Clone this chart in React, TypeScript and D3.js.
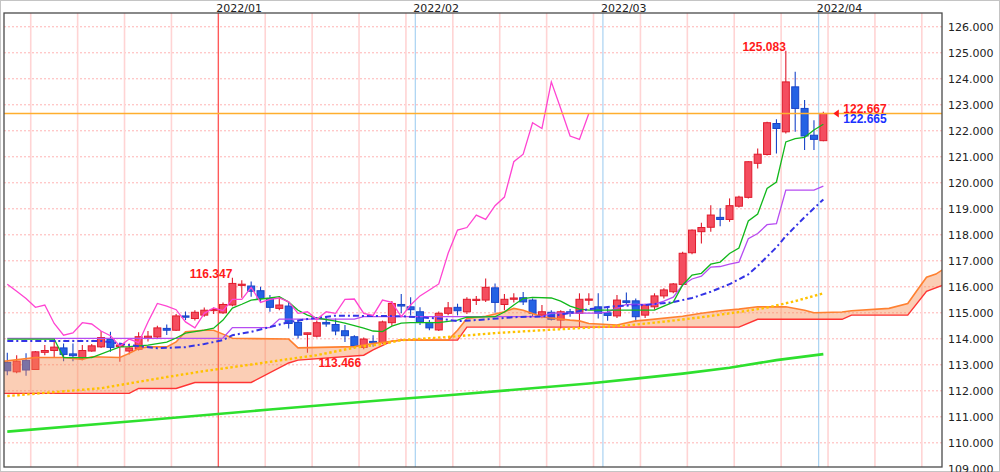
import React from 'react';
import * as d3 from 'd3';

// ---- Data ----
// daily candles, index 0 = 2021/12/01 ... index 87 = 2022/04/01
const openP = [113.09,112.73,113.17,112.82,113.48,113.55,113.65,113.42,113.25,113.53,113.69,113.98,113.70,113.53,113.60,114.04,114.07,114.40,114.33,114.88,114.78,114.91,115.10,115.00,115.30,116.07,116.03,115.85,115.55,115.17,115.26,114.63,114.17,114.10,114.63,114.55,114.31,114.08,113.67,113.90,113.85,114.62,115.32,115.23,115.04,114.63,114.34,114.98,115.21,115.04,115.50,115.49,115.96,115.32,115.52,115.58,115.49,114.91,115.02,114.72,115.04,114.98,115.50,115.23,115.00,114.88,115.46,115.46,114.91,115.23,115.65,115.81,116.09,117.31,118.12,118.29,118.67,118.59,119.10,119.44,120.75,121.09,122.28,121.96,123.69,122.86,121.83,121.62];
const highP = [113.46,113.37,113.44,113.53,113.76,113.88,113.82,113.82,113.76,113.80,114.30,114.27,113.82,113.82,114.25,114.30,114.50,114.55,114.95,115.05,115.10,115.20,115.20,115.40,116.347,116.25,116.20,116.00,115.68,115.64,115.40,114.72,114.23,114.70,114.85,114.78,114.53,114.14,114.05,114.14,114.70,115.45,115.72,115.60,115.21,114.72,115.05,115.42,115.35,115.60,115.65,116.32,116.13,115.72,115.75,115.80,115.55,115.30,115.10,115.10,115.15,115.75,115.75,115.75,115.23,115.68,115.78,115.55,115.35,115.75,115.94,116.15,117.35,118.20,118.46,119.14,119.02,119.40,119.50,120.83,121.32,122.35,122.44,125.083,124.27,123.18,122.41,122.73];
const lowP = [112.60,112.68,112.58,112.80,113.37,113.26,113.14,113.14,113.18,113.50,113.65,113.50,113.12,113.40,113.55,113.90,114.00,114.15,114.30,114.72,114.70,114.85,114.95,114.95,115.25,115.58,115.62,115.40,115.04,115.10,114.40,114.01,113.466,114.05,114.46,114.14,113.88,113.63,113.60,113.69,113.80,114.50,114.98,114.90,114.53,114.33,114.30,114.91,114.90,114.95,115.30,115.42,115.00,115.10,115.40,115.30,114.85,114.79,114.70,114.40,114.85,114.40,115.30,114.78,114.69,114.80,115.30,114.65,114.80,115.12,115.55,115.75,116.05,117.25,117.67,118.12,118.33,118.50,119.05,119.40,120.55,121.05,121.13,121.90,121.96,121.26,121.26,121.60];
const closeP = [112.77,113.14,112.80,113.50,113.55,113.68,113.40,113.35,113.55,113.73,114.05,113.67,113.76,113.65,114.08,114.10,114.42,114.33,114.88,114.83,115.02,115.10,115.13,115.32,116.13,116.10,115.83,115.55,115.21,115.30,114.59,114.14,114.23,114.62,114.57,114.30,114.12,113.72,113.99,113.85,114.65,115.36,115.26,115.12,114.65,114.42,114.98,115.19,115.08,115.52,115.52,115.98,115.40,115.52,115.57,115.42,114.98,115.04,114.75,115.04,114.98,115.52,115.53,114.98,114.90,115.49,115.40,114.85,115.30,115.65,115.88,116.11,117.29,118.18,118.28,118.76,118.59,119.12,119.45,120.81,121.10,122.31,122.09,123.88,122.86,121.80,121.67,122.667];

// lagging span (magenta), starting at index 0
const laggingSpan = [116.10,115.83,115.55,115.21,115.30,114.59,114.14,114.23,114.62,114.57,114.30,114.12,113.72,113.99,113.85,114.65,115.36,115.26,115.12,114.65,114.42,114.98,115.19,115.08,115.52,115.52,115.98,115.40,115.52,115.57,115.42,114.98,115.04,114.75,115.04,114.98,115.52,115.53,114.98,114.90,115.49,115.40,114.85,115.30,115.65,115.88,116.11,117.29,118.18,118.28,118.76,118.59,119.12,119.45,120.81,121.10,122.31,122.09,123.88,122.86,121.80,121.67,122.667];

// [index, value] vertices
const conversionLine: [number, number][] = [[0,113.99],[5,113.99],[6,113.28],[9,113.28],[12,113.69],[13,113.70],[15,113.76],[17,113.87],[18,114.03],[19,114.22],[21,114.33],[22,114.41],[23,114.72],[24,115.18],[25,115.33],[26,115.49],[28,115.57],[29,115.62],[30,115.41],[31,115.10],[32,114.91],[33,114.80],[35,114.68],[36,114.60],[38,114.41],[39,114.30],[40,114.28],[41,114.49],[42,114.60],[43,114.62],[46,114.62],[48,114.72],[49,114.83],[52,114.85],[53,115.03],[54,115.30],[55,115.55],[56,115.59],[58,115.57],[59,115.45],[60,115.26],[61,115.14],[62,115.10],[69,115.10],[70,115.26],[71,115.41],[72,116.07],[73,116.45],[74,116.52],[75,116.87],[76,116.95],[77,117.28],[78,117.49],[79,118.53],[80,118.80],[81,119.78],[82,120.03],[83,121.57],[84,121.70],[85,121.75],[86,122.03],[87,122.25]];
const baseLine: [number, number][] = [[0,114.02],[22,114.02],[23,114.03],[24,114.43],[28,114.43],[29,114.76],[37,114.76],[38,114.85],[57,114.85],[58,114.99],[63,114.99],[64,115.03],[65,115.18],[66,115.32],[69,115.33],[70,115.45],[71,115.60],[72,116.07],[73,116.30],[74,116.41],[75,116.76],[76,116.78],[77,116.87],[78,116.95],[79,117.85],[80,118.05],[81,118.39],[82,118.43],[83,119.72],[86,119.72],[87,119.87]];
const leadingSpanA: [number, number][] = [[-1,113.12],[0,113.15],[3,113.28],[6,113.28],[8,113.21],[9,113.31],[12,113.28],[13,113.44],[14,113.63],[15,113.69],[17,113.69],[18,113.88],[19,114.27],[21,114.33],[22,114.33],[23,114.18],[24,114.02],[30,113.99],[31,113.65],[37,113.70],[39,113.82],[42,113.95],[47,113.95],[48,114.33],[49,114.78],[51,114.87],[53,115.04],[54,115.17],[55,115.10],[57,114.85],[60,114.72],[61,114.69],[62,114.59],[65,114.53],[67,114.69],[68,114.72],[72,114.87],[74,114.98],[76,115.08],[78,115.14],[80,115.23],[83,115.23],[85,115.10],[86,115.00],[89,115.03],[90,115.08],[94,115.17],[96,115.36],[97,115.87],[98,116.37],[99,116.49],[100,116.72]];
const leadingSpanB: [number, number][] = [[-1,111.90],[13,111.90],[14,112.09],[18,112.09],[20,112.32],[26,112.32],[30,113.07],[31,113.18],[38,113.37],[39,113.57],[41,113.91],[42,113.95],[48,113.95],[49,114.45],[78,114.45],[80,114.75],[89,114.75],[90,114.91],[96,114.91],[98,115.83],[100,116.10]];
const maShort: [number, number][] = [[0,113.92],[10,113.92],[13,113.76],[16,113.64],[19,113.68],[21,113.80],[23,113.95],[24,114.14],[26,114.27],[28,114.45],[30,114.64],[32,114.76],[35,114.89],[42,114.87],[46,114.78],[48,114.68],[50,114.72],[54,114.83],[58,114.87],[60,114.99],[62,115.14],[65,115.26],[68,115.30],[71,115.41],[73,115.57],[75,115.81],[77,116.10],[79,116.48],[80,116.80],[82,117.52],[83,117.95],[85,118.68],[87,119.36]];
const maMid: [number, number][] = [[0,111.80],[10,112.10],[17,112.53],[21,112.76],[26,113.01],[30,113.22],[33,113.37],[37,113.66],[40,113.80],[42,113.95],[47,114.07],[52,114.22],[58,114.35],[62,114.43],[66,114.51],[70,114.66],[74,114.83],[78,115.03],[81,115.20],[84,115.45],[87,115.75]];
const maLong: [number, number][] = [[0,110.43],[14,110.85],[28,111.28],[40,111.64],[47,111.83],[55,112.07],[62,112.28],[67,112.47],[72,112.66],[77,112.89],[82,113.18],[87,113.41]];

const priceTicks = [109,110,111,112,113,114,115,116,117,118,119,120,121,122,123,124,125,126];
const monthLabels = ['2022/01','2022/02','2022/03','2022/04'];
const monthStartIdx = [23, 44, 64, 87];
const weekStartIdx = [3,8,13,18,28,33,38,43,48,53,58,63,68,73,78,83,88,93,98];
const highMarks = [{ idx: 24, text: '116.347' }, { idx: 83, text: '125.083' }];
const lowMarks = [{ idx: 32, text: '113.466' }];
const askLabel = '122.667';
const bidLabel = '122.665';

export default function App() {
  const W = 1000, H = 472;
  const left = 4, right = 942, top = 13, bottom = 467;
  const x = d3.scaleLinear().domain([-0.35, 99.65]).range([left, right]);
  const y = d3.scaleLinear().domain([109.07, 126.53]).range([bottom, top]);
  const slotL = (i: number) => x(i - 0.5);
  const line = d3.line<[number, number]>().x(d => x(d[0])).y(d => y(d[1]));
  const lagPts: [number, number][] = laggingSpan.map((v, i) => [i, v]);
  const cloudPts: [number, number][] = [...leadingSpanA, ...[...leadingSpanB].reverse()];
  const cloudPath = line(cloudPts) + 'Z';
  const last = closeP.length - 1;
  const bodyW = 7;
  const font = '"DejaVu Sans", Verdana, sans-serif';
  const boldFont = '"Liberation Sans", Arial, sans-serif';

  return (
    <svg width={W} height={H} style={{ position: 'absolute', left: 0, top: 0, background: '#fff' }}>
      <defs>
        <clipPath id="plot"><rect x={left} y={top} width={right - left} height={bottom - top} /></clipPath>
      </defs>
      <rect x={0.5} y={0.5} width={W - 1} height={H - 1} fill="#fff" stroke="#c4c4c4" />
      <g clipPath="url(#plot)">
        {priceTicks.map(t => (
          <line key={'h' + t} x1={left} x2={right} y1={y(t)} y2={y(t)} stroke="#ffb3b3" strokeDasharray="2,2" strokeWidth={1} />
        ))}
        {weekStartIdx.map(i => (
          <line key={'w' + i} x1={slotL(i)} x2={slotL(i)} y1={top} y2={bottom} stroke="#ffd4d4" strokeWidth={1.6} />
        ))}
        {monthStartIdx.map((i, k) => (
          <line key={'m' + i} x1={slotL(i)} x2={slotL(i)} y1={top} y2={bottom} stroke={k === 0 ? '#ff5a5a' : '#a9d2f2'} strokeWidth={k === 0 ? 1.4 : 1.2} />
        ))}
        <path d={line(maLong) || ''} fill="none" stroke="#2ee02e" strokeWidth={2.6} />
        {closeP.map((c, i) => {
          const o = openP[i];
          const up = c >= o;
          const fill = up ? '#f44d5f' : '#2462e4';
          const stroke = up ? '#e01b2c' : '#1844c8';
          const yt = y(Math.max(o, c));
          const yb = y(Math.min(o, c));
          return (
            <g key={'c' + i}>
              <line x1={x(i)} x2={x(i)} y1={y(highP[i])} y2={y(lowP[i])} stroke={stroke} strokeWidth={1.1} />
              <rect x={x(i) - bodyW / 2} y={yt} width={bodyW} height={Math.max(1.2, yb - yt)} fill={fill} stroke={stroke} strokeWidth={1} />
            </g>
          );
        })}
        <path d={cloudPath} fill="#f58a4e" fillOpacity={0.42} stroke="none" />
        <path d={line(leadingSpanB) || ''} fill="none" stroke="#ff3434" strokeWidth={1.4} />
        <path d={line(leadingSpanA) || ''} fill="none" stroke="#ff8030" strokeWidth={1.6} />
        <path d={line(maMid) || ''} fill="none" stroke="#ffc200" strokeWidth={2.4} strokeDasharray="2.5,2.5" />
        <path d={line(baseLine) || ''} fill="none" stroke="#b64cf2" strokeWidth={1.3} />
        <path d={line(conversionLine) || ''} fill="none" stroke="#12b81c" strokeWidth={1.3} />
        <path d={line(maShort) || ''} fill="none" stroke="#3434e6" strokeWidth={2} strokeDasharray="6,3,2,3" />
        <path d={line(lagPts) || ''} fill="none" stroke="#ff44d2" strokeWidth={1.3} />
        <line x1={left} x2={right} y1={y(closeP[last])} y2={y(closeP[last])} stroke="#ffae2e" strokeWidth={1.6} />
        {highMarks.map(m => (
          <text key={'hm' + m.idx} x={x(m.idx)} y={y(highP[m.idx])} textAnchor="end" fontFamily={boldFont} fontWeight="bold" fontSize={12} fill="#ff1a1a">{m.text}</text>
        ))}
        {lowMarks.map(m => (
          <text key={'lm' + m.idx} x={x(m.idx) + 11} y={y(lowP[m.idx]) + 14} textAnchor="start" fontFamily={boldFont} fontWeight="bold" fontSize={12} fill="#ff1a1a">{m.text}</text>
        ))}
        <path d={`M${x(last) + 10},${y(closeP[last])} L${x(last) + 15.5},${y(closeP[last]) - 4} L${x(last) + 15.5},${y(closeP[last]) + 4} Z`} fill="#ff1a1a" />
        <text x={x(last) + 20} y={y(closeP[last])} fontFamily={boldFont} fontWeight="bold" fontSize={12} fill="#ff1a1a">{askLabel}</text>
        <text x={x(last) + 20} y={y(closeP[last]) + 10} fontFamily={boldFont} fontWeight="bold" fontSize={12} fill="#1a32ff">{bidLabel}</text>
      </g>
      <rect x={left} y={top} width={right - left} height={bottom - top} fill="none" stroke="#4a4a4a" strokeWidth={1.3} />
      {priceTicks.map(t => (
        <text key={'yl' + t} x={948} y={y(t) + 4.3} fontFamily={font} fontSize={11} fill="#222">{t.toFixed(3)}</text>
      ))}
      {monthStartIdx.map((i, k) => (
        <text key={'ml' + i} x={slotL(i) - 2} y={11.5} fontFamily={font} fontSize={11} fill="#222">{monthLabels[k]}</text>
      ))}
    </svg>
  );
}
